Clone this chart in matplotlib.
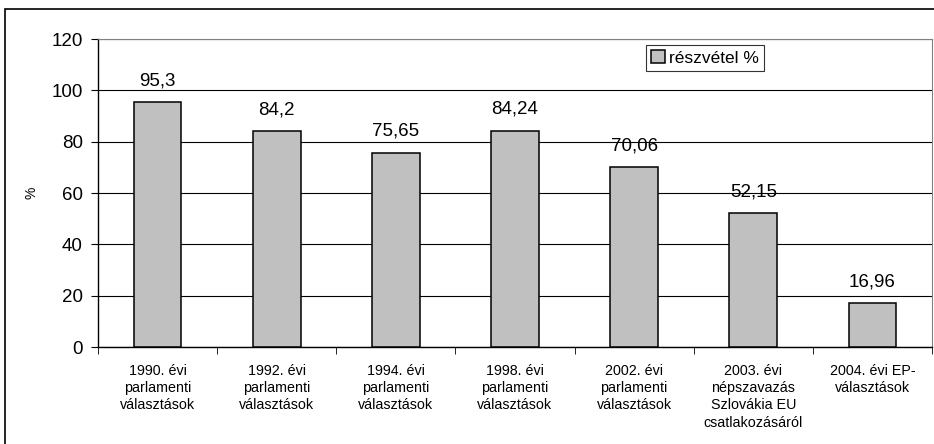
import matplotlib.pyplot as plt
from matplotlib.patches import Rectangle

plt.rcParams['font.family'] = ['Liberation Sans', 'DejaVu Sans']

# adatok
categories = ['1990. évi\nparlamenti\nválasztások',
              '1992. évi\nparlamenti\nválasztások',
              '1994. évi\nparlamenti\nválasztások',
              '1998. évi\nparlamenti\nválasztások',
              '2002. évi\nparlamenti\nválasztások',
              '2003. évi\nnépszavazás\nSzlovákia EU\ncsatlakozásáról',
              '2004. évi EP-\nválasztások']
values = [95.3, 84.2, 75.65, 84.24, 70.06, 52.15, 16.96]
value_labels = ['95,3', '84,2', '75,65', '84,24', '70,06', '52,15', '16,96']

fig = plt.figure(figsize=(9.34, 4.44), dpi=100)
# külső keret
fig.patches.append(Rectangle((5/934, -0.05), 1.2, 1 - 9/444 + 0.05,
                             transform=fig.transFigure, fill=False,
                             edgecolor='black', linewidth=1.2))
ax = fig.add_axes([98/934, 1 - 347/444, (932 - 98)/934, (347 - 39)/444])

x = list(range(len(values)))
ax.bar(x, values, width=0.4, color='#c0c0c0', edgecolor='black',
       linewidth=1.1, label='részvétel %', zorder=3)
for xi, v, lab in zip(x, values, value_labels):
    ax.text(xi, v + 5, lab, ha='center', va='bottom', fontsize=13.5)

ax.set_xlim(-0.5, len(values) - 0.5)
ax.set_ylim(0, 120)
ax.set_yticks(range(0, 121, 20))
ax.yaxis.grid(True, color='black', linewidth=0.8, zorder=0)
ax.set_axisbelow(True)

ax.set_xticks(x)
ax.set_xticklabels(categories, fontsize=10.3, linespacing=1.3, va='top')
ax.tick_params(axis='x', length=0, pad=12)
ax.set_xticks([i - 0.5 for i in range(len(values) + 1)], minor=True)
ax.tick_params(axis='x', which='minor', length=5, direction='out')
ax.tick_params(axis='y', labelsize=13.5, length=5, pad=6)

for s in ['top', 'right']:
    ax.spines[s].set_color('#808080')
ax.spines['left'].set_linewidth(1.0)
ax.spines['bottom'].set_linewidth(1.0)

ax.set_ylabel('%', fontsize=10, labelpad=9)

leg = ax.legend(loc='upper left', bbox_to_anchor=(646/934, 1 - 45/444),
                bbox_transform=fig.transFigure, fontsize=12.5, frameon=True,
                fancybox=False, shadow=False, handlelength=0.8,
                handleheight=0.8, handletextpad=0.2, borderpad=0.3,
                borderaxespad=0)
leg.get_frame().set_edgecolor('black')
leg.get_frame().set_linewidth(0.8)

fig.savefig('out.png', dpi=100)
